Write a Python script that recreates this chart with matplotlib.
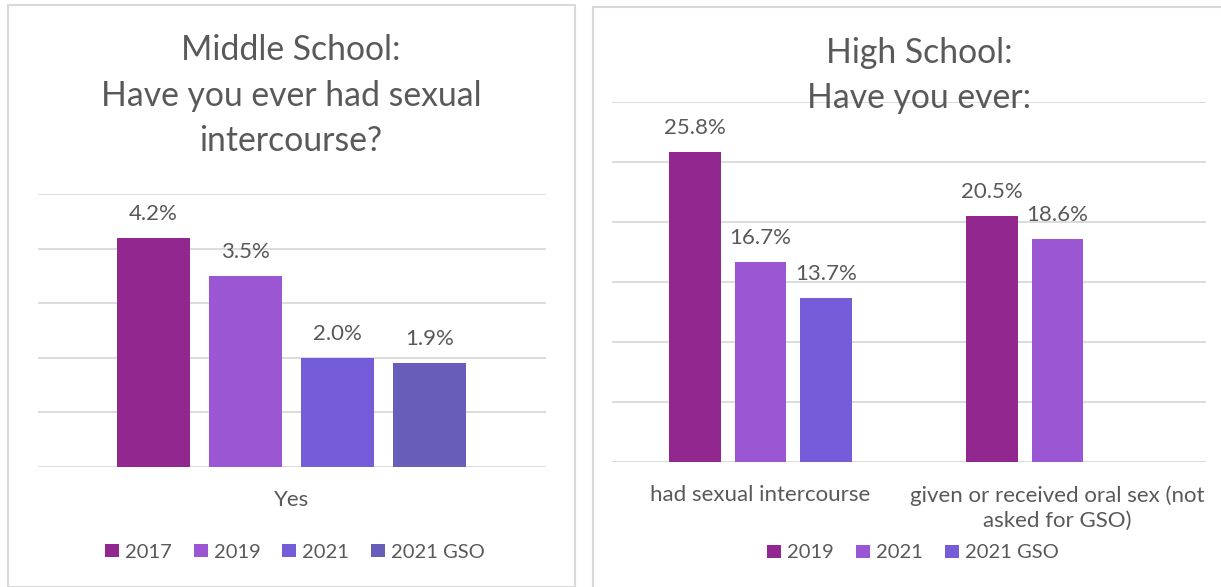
import numpy as np
import matplotlib.pyplot as plt
from matplotlib.patches import Rectangle

plt.rcParams['font.family'] = ['Lato', 'DejaVu Sans']

# Middle school data
ms_categories = ['Yes']
ms_series = ['2017', '2019', '2021', '2021 GSO']
ms_values = [[4.2], [3.5], [2.0], [1.9]]

# High school data
hs_categories = ['had sexual intercourse', 'given or received oral sex (not\nasked for GSO)']
hs_series = ['2019', '2021', '2021 GSO']
hs_values = [[25.8, 20.5], [16.7, 18.6], [13.7, np.nan]]

colors = ['#92278F', '#9B57D3', '#755DD9', '#665EB8']
text_col = '#595959'
grid_col = '#D9D9D9'

W, H = 1221, 587
fig = plt.figure(figsize=(W / 100, H / 100), dpi=100)


def px_axes(x0, y0, x1, y1):
    # pixel box (top-left origin) -> figure axes
    return fig.add_axes([x0 / W, 1 - y1 / H, (x1 - x0) / W, (y1 - y0) / H])


def draw_bars(ax, cats, values, step, width, ymax, ystep):
    n = len(values)
    x = np.arange(len(cats))
    handles = []
    for i, vals in enumerate(values):
        off = (i - (n - 1) / 2) * step
        vals = np.array(vals, dtype=float)
        ok = ~np.isnan(vals)
        b = ax.bar(x[ok] + off, vals[ok], width=width, color=colors[i], zorder=3)
        handles.append(b)
        for xx, v in zip(x[ok] + off, vals[ok]):
            ax.annotate(f'{v:.1f}%', (xx, v), xytext=(0, 13), textcoords='offset points',
                        ha='center', va='baseline', fontsize=16, color=text_col)
    ax.set_xlim(-0.5, len(cats) - 0.5)
    ax.set_ylim(0, ymax)
    ax.set_yticks(np.arange(0, ymax + ystep / 2, ystep))
    ax.grid(axis='y', color=grid_col, linewidth=1.3, zorder=0)
    ax.set_axisbelow(True)
    for s in ax.spines.values():
        s.set_visible(False)
    ax.tick_params(left=False, bottom=False, labelleft=False, labelbottom=False)
    ax.set_facecolor('none')
    for xx, c in zip(x, cats):
        ax.annotate(c, (xx, 0), xycoords=('data', 'axes fraction'), xytext=(0, -16.5),
                    textcoords='offset points', ha='center', va='top',
                    fontsize=16, color=text_col, linespacing=1.33)
    return handles


# panel borders
fig.patches.append(Rectangle((8 / W, 0), (575 - 8) / W, 1 - 5 / H, transform=fig.transFigure,
                             fill=False, edgecolor=grid_col, linewidth=1.5))
fig.patches.append(Rectangle((593 / W, -0.01), 1, 1 - 7 / H + 0.01, transform=fig.transFigure,
                             fill=False, edgecolor=grid_col, linewidth=1.5))

# left chart
ax1 = px_axes(37.5, 194, 546, 467)
h1 = draw_bars(ax1, ms_categories, ms_values, step=0.181, width=0.1436, ymax=5, ystep=1)
for txt, yb in [('Middle School:', 60), ('Have you ever had sexual', 106), ('intercourse?', 151)]:
    fig.text(291 / W, 1 - yb / H, txt, ha='center', va='baseline', fontsize=24.3, color=text_col)
fig.legend(h1, ms_series, loc='center', bbox_to_anchor=(295 / W, 1 - 552 / H), ncol=4,
           frameon=False, fontsize=14.5, handlelength=0.68, handleheight=0.68,
           handletextpad=0.3, columnspacing=1.1, labelcolor=text_col)

# right chart
ax2 = px_axes(612, 102, 1206, 462)
h2 = draw_bars(ax2, hs_categories, hs_values, step=0.222, width=0.175, ymax=30, ystep=5)
for txt, yb in [('High School:', 63), ('Have you ever:', 108)]:
    fig.text(919 / W, 1 - yb / H, txt, ha='center', va='baseline', fontsize=24.3, color=text_col,
             zorder=5)
fig.legend(h2, hs_series, loc='center', bbox_to_anchor=(913 / W, 1 - 553 / H), ncol=3,
           frameon=False, fontsize=14.5, handlelength=0.68, handleheight=0.68,
           handletextpad=0.3, columnspacing=1.1, labelcolor=text_col)

fig.savefig('out.png', dpi=100)
